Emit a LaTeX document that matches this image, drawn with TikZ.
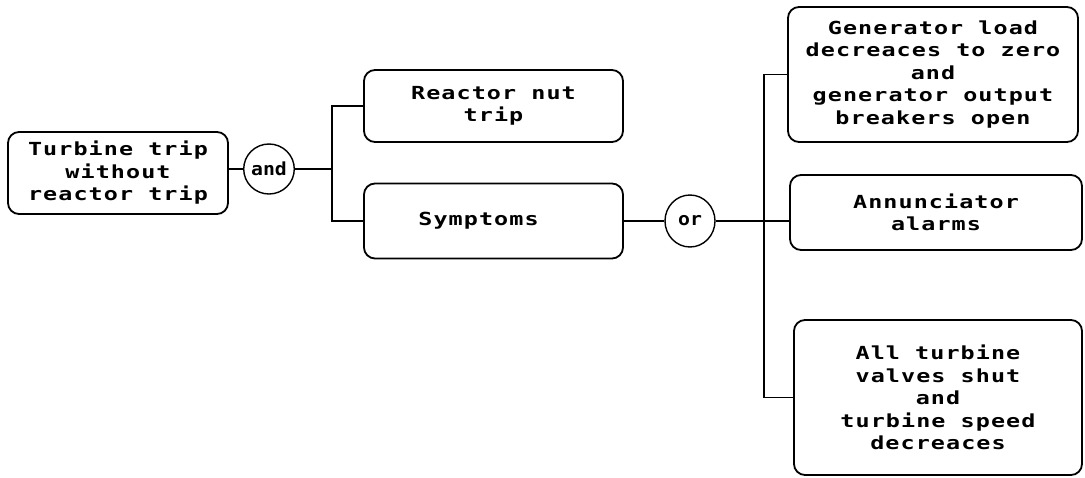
\documentclass[tikz,border=0pt]{standalone}
\usepackage{fontspec}
\usetikzlibrary{shapes.geometric}
\newfontfamily\dotfont{DejaVu Sans Mono}[FakeStretch=1.3,LetterSpace=6]
\newfontfamily\gatefont{DejaVu Sans Mono}[FakeStretch=1.1]
\begin{document}
\begin{tikzpicture}[x=1pt,y=-1pt,
  box/.style={draw,line width=1.8pt,rounded corners=11pt,align=center,
    font=\dotfont\bfseries\fontsize{18}{22.5}\selectfont,inner sep=0pt},
  gate/.style={draw,ellipse,line width=1.4pt,inner sep=0pt,
    font=\gatefont\bfseries\fontsize{18}{20}\selectfont},
  conn/.style={line width=1.4pt}]
\useasboundingbox (0,0) rectangle (1085,477);
\node[box,minimum width=220pt,minimum height=82pt] (turb) at (118,173)
  {Turbine trip\\without\\reactor trip};
\node[gate,minimum width=42pt,minimum height=50pt] (and) at (269,169) {and};
\node[box,minimum width=259pt,minimum height=72pt] (react) at (493.5,106)
  {Reactor nut\\trip};
\node[box,minimum width=259pt,minimum height=75pt] (symp) at (493.5,221)
  {Symptoms\hspace*{30pt}};
\node[gate,minimum width=50pt,minimum height=52pt] (or) at (690,221) {or};
\node[box,minimum width=290pt,minimum height=135pt] (gen) at (933,74.5)
  {Generator load\\decreaces to zero\\and\\generator output\\breakers open};
\node[box,minimum width=292pt,minimum height=75pt] (ann) at (936,212.5)
  {Annunciator\\alarms};
\node[box,minimum width=288pt,minimum height=155pt] (allt) at (938,397.5)
  {All turbine\\valves shut\\and\\turbine speed\\decreaces};
\coordinate (busA) at (332,0);
\coordinate (busB) at (764,0);
\draw[conn] (turb.east |- and.west) -- (and.west);
\draw[conn] (and.east) -- (and.east -| busA);
\draw[conn] (react.west) -- (react.west -| busA) -- (symp.west -| busA) -- (symp.west);
\draw[conn] (symp.east) -- (or.west);
\draw[conn] (or.east) -- (or.east -| busB);
\draw[conn] (gen.west) -- (gen.west -| busB) -- (busB |- 0,397.5) -- (allt.west);
\draw[conn] (busB |- 0,221) -- (ann.west |- 0,221);
\end{tikzpicture}
\end{document}
